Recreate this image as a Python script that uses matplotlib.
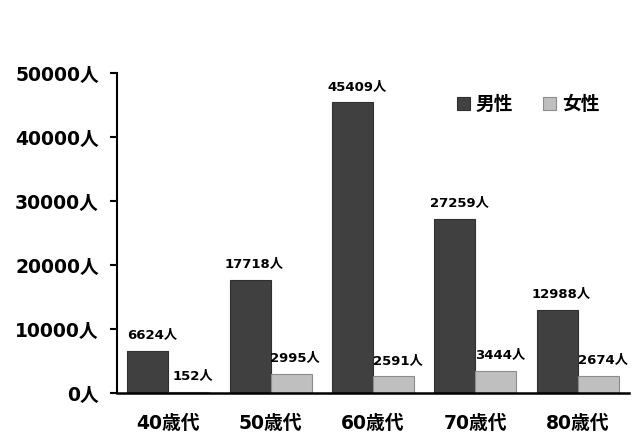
import numpy as np
import matplotlib
matplotlib.use('Agg')
import matplotlib.pyplot as plt

plt.rcParams['font.family'] = ['DejaVu Sans', 'Noto Sans CJK JP']
plt.rcParams['font.weight'] = 'bold'

# data
ages = ['40歳代', '50歳代', '60歳代', '70歳代', '80歳代']
male = [6624, 17718, 45409, 27259, 12988]
female = [152, 2995, 2591, 3444, 2674]
yticks = [0, 10000, 20000, 30000, 40000, 50000]

fig = plt.figure(figsize=(6.38, 4.38), dpi=100)
ax = fig.add_axes([0.1834, 0.1027, 0.8026, 0.7306])

x = np.arange(len(ages))
w = 0.4
b1 = ax.bar(x - w/2, male, w, color='#404040', edgecolor='#303030', linewidth=0.8, label='男性')
b2 = ax.bar(x + w/2, female, w, color='#BFBFBF', edgecolor='#8C8C8C', linewidth=0.8, label='女性')

for xi, v in zip(x - w/2, male):
    ax.annotate(f'{v}人', (xi, v), xytext=(3, 7), textcoords='offset points',
                ha='center', va='bottom', fontsize=9.5, fontweight='bold')
for xi, v in zip(x + w/2, female):
    ax.annotate(f'{v}人', (xi, v), xytext=(3, 7), textcoords='offset points',
                ha='center', va='bottom', fontsize=9.5, fontweight='bold')

ax.set_xlim(-0.5, 4.5)
ax.set_ylim(0, 50000)
ax.set_yticks(yticks)
ax.set_yticklabels([f'{t}人' for t in yticks], fontsize=13.5, fontweight='bold')
ax.set_xticks(x)
ax.set_xticklabels(ages, fontsize=13.5, fontweight='bold')
ax.tick_params(axis='x', length=0, pad=15)
ax.tick_params(axis='y', length=5, width=1.5, pad=8)

for s in ['top', 'right']:
    ax.spines[s].set_visible(False)
ax.spines['left'].set_linewidth(1.5)
ax.spines['bottom'].set_linewidth(1.8)

leg = ax.legend(loc='upper right', bbox_to_anchor=(0.975, 0.985), ncol=2, frameon=False,
                prop={'size': 13.5, 'weight': 'bold'}, handlelength=0.7, handleheight=0.7,
                handletextpad=0.3, columnspacing=1.6)

plt.savefig('out.png', dpi=100)
